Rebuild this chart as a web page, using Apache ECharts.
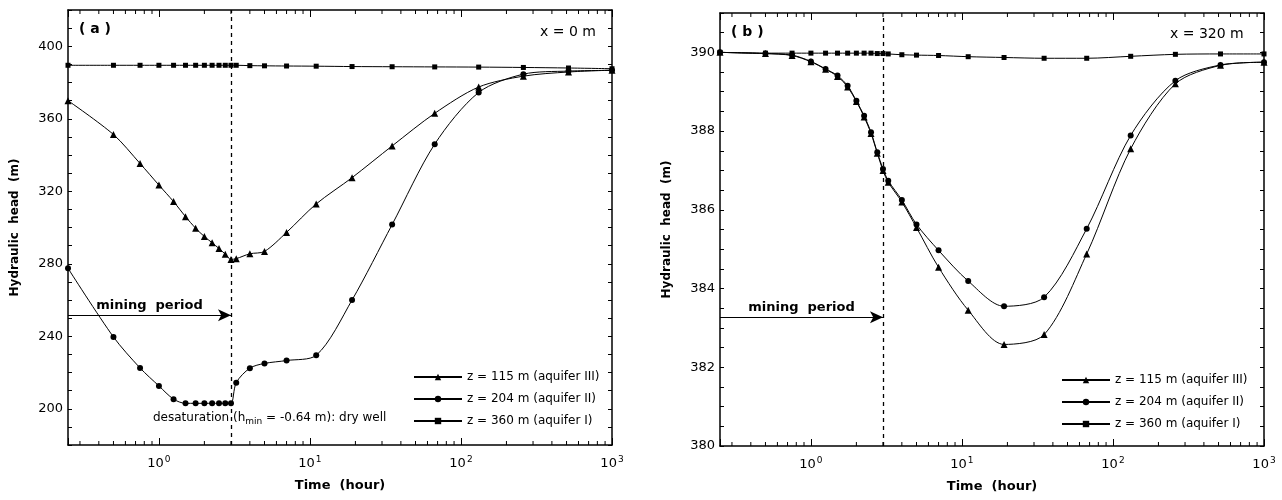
<!DOCTYPE html>
<html>
<head>
<meta charset="utf-8">
<script src="https://cdn.jsdelivr.net/npm/echarts@6/dist/echarts.min.js"></script>
<style>
  html, body { margin: 0; background: #fff; }
  #chart { width: 1282px; height: 500px; }
</style>
</head>
<body>
<div id="chart"></div>
<script>
// time steps (hour) shared by every curve
const times = [0.25, 0.5, 0.75, 1, 1.25, 1.5, 1.75, 2, 2.25, 2.5, 2.75, 3, 3.25, 4, 5, 7, 11, 19, 35, 67, 131, 259, 515, 1000];

// panel (a), x = 0 m
const headA115 = [370, 351.3, 335.3, 323.4, 314.3, 306, 299.6, 295, 291.6, 288.4, 285.3, 282.4, 282.8, 285.5, 286.8, 297.3, 313, 327.5, 345, 363, 377.5, 383.5, 385.8, 386.8];
const headA204 = [277.5, 239.6, 222.5, 212.6, 205.3, 203, 203, 203, 203, 203, 203, 203, 214.4, 222.4, 225, 226.6, 229.5, 260, 301.6, 346, 374.5, 384.6, 386.3, 386.7];
const headA360 = [389.5, 389.5, 389.5, 389.5, 389.5, 389.5, 389.5, 389.5, 389.5, 389.5, 389.5, 389.5, 389.5, 389.3, 389.2, 389.1, 389, 388.8, 388.7, 388.6, 388.5, 388.3, 388, 387.6];

// panel (b), x = 320 m
const headB115 = [390, 389.97, 389.92, 389.76, 389.57, 389.39, 389.12, 388.75, 388.36, 387.94, 387.44, 387.0, 386.7, 386.2, 385.55, 384.54, 383.45, 382.58, 382.83, 384.88, 387.55, 389.2, 389.67, 389.75];
const headB204 = [390, 389.97, 389.93, 389.77, 389.58, 389.41, 389.15, 388.77, 388.39, 387.97, 387.46, 387.04, 386.74, 386.25, 385.63, 384.97, 384.19, 383.55, 383.78, 385.52, 387.89, 389.28, 389.68, 389.75];
const headB360 = [390, 389.98, 389.98, 389.98, 389.98, 389.98, 389.98, 389.98, 389.98, 389.98, 389.97, 389.97, 389.96, 389.94, 389.93, 389.92, 389.89, 389.87, 389.85, 389.85, 389.9, 389.95, 389.96, 389.96];

const seriesNames = ['z = 115 m (aquifer III)', 'z = 204 m (aquifer II)', 'z = 360 m (aquifer I)'];
const miningEnd = 3;          // hours
const miningArrowA = 251.6;   // head level of the arrow in (a)
const miningArrowB = 383.27;  // head level of the arrow in (b)
const logMinorTicks = [0.3, 0.4, 0.5, 0.6, 0.7, 0.8, 0.9, 2, 3, 4, 5, 6, 7, 8, 9, 20, 30, 40, 50, 60, 70, 80, 90, 200, 300, 400, 500, 600, 700, 800, 900];

const FONT = '"DejaVu Sans", "Liberation Sans", Arial, sans-serif';
const symbols = ['triangle', 'circle', 'rect'];
const symbolSizes = [7, 6, 5];

function pairs(vals) {
  return times.map((t, i) => [t, vals[i]]);
}

function powLabel(v) {
  const e = Math.log10(v);
  const r = Math.round(e);
  if (Math.abs(e - r) > 1e-6) return '';
  return '{b|10}{s|' + r + '}';
}

function xAxisFor(grid, top) {
  return {
    type: 'log', logBase: 10, gridIndex: grid, min: 0.25, max: 1000,
    position: top ? 'top' : 'bottom',
    axisLine: { show: true, onZero: false, lineStyle: { color: '#000', width: 1.5 } },
    axisTick: { show: true, inside: true, length: 7, lineStyle: { color: '#000' } },
    axisLabel: top ? { show: false } : {
      formatter: powLabel, margin: 10,
      rich: {
        b: { fontFamily: FONT, fontSize: 13, color: '#000' },
        s: { fontFamily: FONT, fontSize: 9, color: '#000', padding: [0, 0, 8, 1] }
      }
    },
    splitLine: { show: false },
    name: top ? '' : 'Time  (hour)', nameLocation: 'middle', nameGap: 34,
    nameTextStyle: { fontFamily: FONT, fontSize: 13, fontWeight: 'bold', color: '#000' }
  };
}

function yAxisFor(grid, right, min, max, step, labelFn) {
  return {
    type: 'value', gridIndex: grid, min: min, max: max, interval: step,
    position: right ? 'right' : 'left',
    axisLine: { show: true, onZero: false, lineStyle: { color: '#000', width: 1.5 } },
    axisTick: { show: true, inside: true, length: 4, lineStyle: { color: '#000' } },
    axisLabel: right ? { show: false } : {
      formatter: labelFn, margin: 5, fontFamily: FONT, fontSize: 13, color: '#000'
    },
    splitLine: { show: false },
    name: right ? '' : 'Hydraulic  head  (m)', nameLocation: 'middle', nameGap: 47, nameRotate: 90,
    nameTextStyle: { fontFamily: FONT, fontSize: 12, fontWeight: 'bold', color: '#000' }
  };
}

function curve(name, idx, vals, xi, yi, extra) {
  return Object.assign({
    name: name, type: 'line', xAxisIndex: xi, yAxisIndex: yi,
    data: pairs(vals), smooth: 0.3,
    symbol: symbols[idx], symbolSize: symbolSizes[idx], showAllSymbol: true,
    lineStyle: { color: '#000', width: 1 },
    itemStyle: { color: '#000' },
    z: 3
  }, extra || {});
}

function miningMarks(level) {
  return {
    silent: true, symbol: ['none', 'none'], animation: false,
    data: [
      { xAxis: miningEnd, lineStyle: { type: [4, 4], color: '#000', width: 1.3 }, label: { show: false } },
      [
        { coord: [0.25, level], symbol: 'none' },
        {
          coord: [miningEnd, level], symbol: 'arrow', symbolSize: [9, 13],
          lineStyle: { type: 'solid', color: '#000', width: 1.2 },
          label: {
            show: true, formatter: 'mining  period', position: 'insideMiddleTop', distance: 3,
            fontFamily: FONT, fontSize: 13, fontWeight: 'bold', color: '#000'
          }
        }
      ]
    ]
  };
}

function minorTickSeries(xi, yi) {
  return {
    type: 'custom', xAxisIndex: xi, yAxisIndex: yi, silent: true, clip: false, z: 5,
    data: logMinorTicks.map(v => [v]),
    encode: { x: 0 },
    renderItem: function (params, api) {
      const cs = params.coordSys;
      const x = api.coord([api.value(0), 0])[0];
      const yb = cs.y + cs.height;
      return {
        type: 'group', children: [
          { type: 'line', shape: { x1: x, y1: yb, x2: x, y2: yb - 4 }, style: { stroke: '#000', lineWidth: 1 } },
          { type: 'line', shape: { x1: x, y1: cs.y, x2: x, y2: cs.y + 4 }, style: { stroke: '#000', lineWidth: 1 } }
        ]
      };
    }
  };
}

const labelA = v => (v % 40 === 0 && v >= 200 && v <= 400) ? String(v) : '';
const labelB = v => (Number.isInteger(v) && v % 2 === 0) ? String(v) : '';

const legendBase = {
  data: seriesNames, orient: 'vertical', itemWidth: 48, itemHeight: 8, itemGap: 10,
  selectedMode: false,
  textStyle: { fontFamily: FONT, fontSize: 12, color: '#000' }
};

const option = {
  animation: false,
  backgroundColor: '#fff',
  grid: [
    { left: 68, right: 670, top: 10, bottom: 55 },
    { left: 720, right: 18, top: 13, bottom: 54 }
  ],
  xAxis: [xAxisFor(0, false), xAxisFor(0, true), xAxisFor(1, false), xAxisFor(1, true)],
  yAxis: [
    yAxisFor(0, false, 180, 420, 10, labelA), yAxisFor(0, true, 180, 420, 10, labelA),
    yAxisFor(1, false, 380, 391, 0.5, labelB), yAxisFor(1, true, 380, 391, 0.5, labelB)
  ],
  legend: [
    Object.assign({ left: 408, top: 366 }, legendBase),
    Object.assign({ left: 1056, top: 369 }, legendBase)
  ],
  series: [
    curve(seriesNames[0], 0, headA115, 0, 0),
    curve(seriesNames[1], 1, headA204, 0, 0, { markLine: miningMarks(miningArrowA) }),
    curve(seriesNames[2], 2, headA360, 0, 0),
    curve(seriesNames[0], 0, headB115, 2, 2),
    curve(seriesNames[1], 1, headB204, 2, 2, { markLine: miningMarks(miningArrowB) }),
    curve(seriesNames[2], 2, headB360, 2, 2),
    minorTickSeries(0, 0),
    minorTickSeries(2, 2)
  ],
  graphic: [
    { type: 'text', left: 79, top: 22, style: { text: '( a )', font: 'bold 14px ' + FONT, fill: '#000' } },
    { type: 'text', left: 540, top: 25, style: { text: 'x = 0 m', font: '14px ' + FONT, fill: '#000' } },
    { type: 'text', left: 731, top: 25, style: { text: '( b )', font: 'bold 14px ' + FONT, fill: '#000' } },
    { type: 'text', left: 1170, top: 27, style: { text: 'x = 320 m', font: '14px ' + FONT, fill: '#000' } },
    {
      type: 'text', left: 153, top: 412,
      style: {
        text: '{n|desaturation (h}{sub|min}{n| = -0.64 m): dry well}',
        rich: {
          n: { fontFamily: FONT, fontSize: 12, fill: '#000' },
          sub: { fontFamily: FONT, fontSize: 9, fill: '#000', padding: [7, 0, 0, 0] }
        }
      }
    }
  ]
};

const chart = echarts.init(document.getElementById('chart'));
chart.setOption(option);
</script>
</body>
</html>
